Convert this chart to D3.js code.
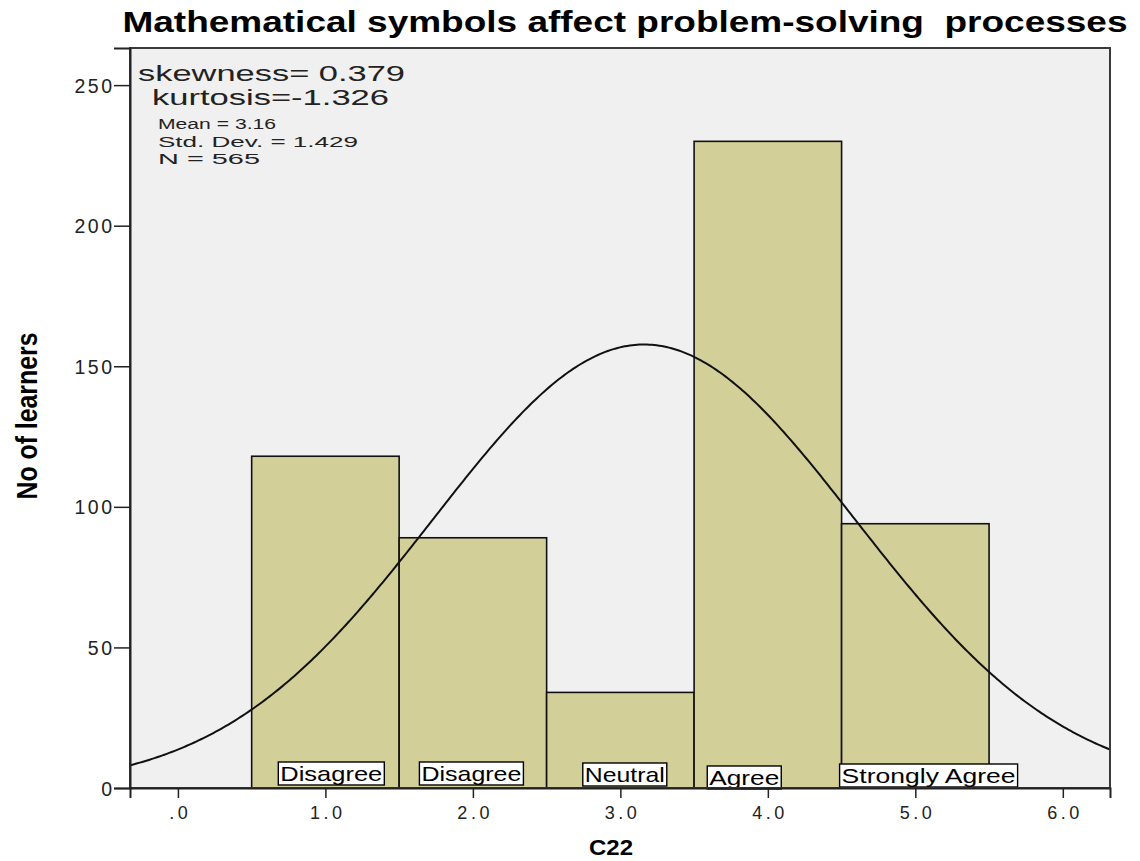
<!DOCTYPE html>
<html>
<head>
<meta charset="utf-8">
<script src="https://cdn.jsdelivr.net/npm/d3@7/dist/d3.min.js"></script>
<style>
  html, body { margin: 0; padding: 0; background: #fff; }
  svg { display: block; }
</style>
</head>
<body>
<svg id="chart" width="1140" height="861"></svg>
<script>
// Response categories for item C22 and their learner counts
const categories = ["Disagree", "Disagree", "Neutral", "Agree", "Strongly Agree"];
const binCenters = [1, 2, 3, 4, 5];
const counts = [118, 89, 34, 230, 94];

// Axis ticks
const xTickValues = [0, 1, 2, 3, 4, 5, 6];
const xTickLabels = [".0", "1.0", "2.0", "3.0", "4.0", "5.0", "6.0"];
const yTickValues = [0, 50, 100, 150, 200, 250];

// Summary statistics shown in the plot
const mean = 3.16;
const stdDev = 1.429;
const nTotal = 565;
const skewText = ["skewness= 0.379", "kurtosis=-1.326"];
const statText = ["Mean = 3.16", "Std. Dev. = 1.429", "N = 565"];

// Layout
const plot = { left: 130, right: 1110, top: 48, bottom: 788 };
const binWidth = 1;
// placement of the category tags: horizontal nudge (data units), top edge and text width (px)
const tagNudgeX = [0.04, -0.01, 0.03, -0.16, 0.09];
const tagTop = [762, 762, 763, 766, 764];
const tagTextWidth = [102, 100, 80, 70, 174];

const condensed = "'Liberation Sans Narrow', 'Liberation Sans', Arial, sans-serif";
const plain = "'Liberation Sans', Arial, sans-serif";

const svg = d3.select("#chart");

const x = d3.scaleLinear().domain([-0.325, 6.32]).range([plot.left, plot.right]);
const y = d3.scaleLinear().domain([0, 263.2]).range([plot.bottom, plot.top]);

// plot background
svg.append("rect")
  .attr("x", plot.left).attr("y", plot.top)
  .attr("width", plot.right - plot.left).attr("height", plot.bottom - plot.top)
  .attr("fill", "#f0f0f0");

const clipId = "plotClip";
svg.append("clipPath").attr("id", clipId)
  .append("rect")
  .attr("x", plot.left).attr("y", plot.top)
  .attr("width", plot.right - plot.left).attr("height", plot.bottom - plot.top);

// histogram bars
svg.append("g").selectAll("rect")
  .data(counts)
  .join("rect")
  .attr("x", (d, i) => x(binCenters[i] - binWidth / 2))
  .attr("width", (d, i) => x(binCenters[i] + binWidth / 2) - x(binCenters[i] - binWidth / 2))
  .attr("y", d => y(d))
  .attr("height", d => y(0) - y(d))
  .attr("fill", "#d3cf98")
  .attr("stroke", "#111")
  .attr("stroke-width", 1.6);

// fitted normal curve scaled to counts
const [d0, d1] = x.domain();
const curveXs = d3.range(0, 401).map(i => d0 + (d1 - d0) * i / 400);
const normal = v => nTotal * binWidth / (stdDev * Math.sqrt(2 * Math.PI)) *
  Math.exp(-0.5 * Math.pow((v - mean) / stdDev, 2));
svg.append("path")
  .datum(curveXs)
  .attr("clip-path", `url(#${clipId})`)
  .attr("fill", "none")
  .attr("stroke", "#111")
  .attr("stroke-width", 2)
  .attr("d", d3.line().x(v => x(v)).y(v => y(normal(v))));

// category tags along the base of the bars
const tags = svg.append("g").attr("class", "tags");
categories.forEach((c, i) => {
  const g = tags.append("g");
  const cx = x(binCenters[i] + tagNudgeX[i]);
  const w = tagTextWidth[i];
  g.append("rect")
    .attr("x", cx - w / 2 - 2)
    .attr("y", tagTop[i])
    .attr("width", w + 4)
    .attr("height", 23)
    .attr("fill", "#fff")
    .attr("stroke", "#000")
    .attr("stroke-width", 1.4);
  g.append("text")
    .attr("x", cx - w / 2)
    .attr("y", tagTop[i] + 19)
    .attr("font-family", condensed)
    .attr("font-size", 21)
    .attr("fill", "#000")
    .attr("textLength", w)
    .attr("lengthAdjust", "spacingAndGlyphs")
    .text(c);
});

// frame
svg.append("rect")
  .attr("x", plot.left).attr("y", plot.top)
  .attr("width", plot.right - plot.left).attr("height", plot.bottom - plot.top)
  .attr("fill", "none")
  .attr("stroke", "#3a3a3a")
  .attr("stroke-width", 2);

// axes
const xAxis = svg.append("g")
  .attr("transform", `translate(0,${plot.bottom})`)
  .call(d3.axisBottom(x).tickValues(xTickValues)
    .tickFormat((d, i) => xTickLabels[i]).tickSize(10).tickPadding(8));
const yAxis = svg.append("g")
  .attr("transform", `translate(${plot.left},0)`)
  .call(d3.axisLeft(y).tickValues(yTickValues).tickSize(16).tickPadding(2));
[xAxis, yAxis].forEach(a => {
  a.select(".domain").attr("stroke", "#222").attr("stroke-width", 2);
  a.selectAll(".tick line").attr("stroke", "#222").attr("stroke-width", 1.5);
  a.selectAll(".tick text")
    .attr("font-family", plain)
    .attr("fill", "#222");
});
xAxis.selectAll(".tick text")
  .attr("font-size", 18)
  .attr("letter-spacing", "3.5px")
  .attr("dx", "1.75px");
yAxis.selectAll(".tick text")
  .attr("font-size", 19.5)
  .attr("letter-spacing", "2.5px")
  .attr("dx", "2.5px")
  .attr("dy", "0.36em");

// title
svg.append("text")
  .attr("x", 625).attr("y", 32)
  .attr("text-anchor", "middle")
  .attr("font-family", condensed)
  .attr("font-weight", "bold")
  .attr("font-size", 29)
  .attr("textLength", 1005)
  .attr("lengthAdjust", "spacingAndGlyphs")
  .style("white-space", "pre")
  .text("Mathematical symbols affect problem-solving  processes");

// axis titles
svg.append("text")
  .attr("x", 611).attr("y", 855)
  .attr("text-anchor", "middle")
  .attr("font-family", condensed)
  .attr("font-weight", "bold")
  .attr("font-size", 22)
  .attr("textLength", 44)
  .attr("lengthAdjust", "spacingAndGlyphs")
  .text("C22");

svg.append("text")
  .attr("transform", "translate(37,416) rotate(-90)")
  .attr("text-anchor", "middle")
  .attr("font-family", condensed)
  .attr("font-weight", "bold")
  .attr("font-size", 30)
  .attr("textLength", 167)
  .attr("lengthAdjust", "spacingAndGlyphs")
  .text("No of learners");

// statistics annotations
svg.append("text")
  .attr("x", 138).attr("y", 81)
  .attr("font-family", plain).attr("font-size", 22).attr("fill", "#222")
  .attr("textLength", 267).attr("lengthAdjust", "spacingAndGlyphs")
  .text(skewText[0]);
svg.append("text")
  .attr("x", 152).attr("y", 105)
  .attr("font-family", plain).attr("font-size", 22).attr("fill", "#222")
  .attr("textLength", 237).attr("lengthAdjust", "spacingAndGlyphs")
  .text(skewText[1]);
const statWidths = [118, 200, 102];
statText.forEach((s, i) => {
  svg.append("text")
    .attr("x", 158).attr("y", 129 + i * 17.5)
    .attr("font-family", plain).attr("font-size", 15.5).attr("fill", "#222")
    .attr("textLength", statWidths[i]).attr("lengthAdjust", "spacingAndGlyphs")
    .text(s);
});
</script>
</body>
</html>
